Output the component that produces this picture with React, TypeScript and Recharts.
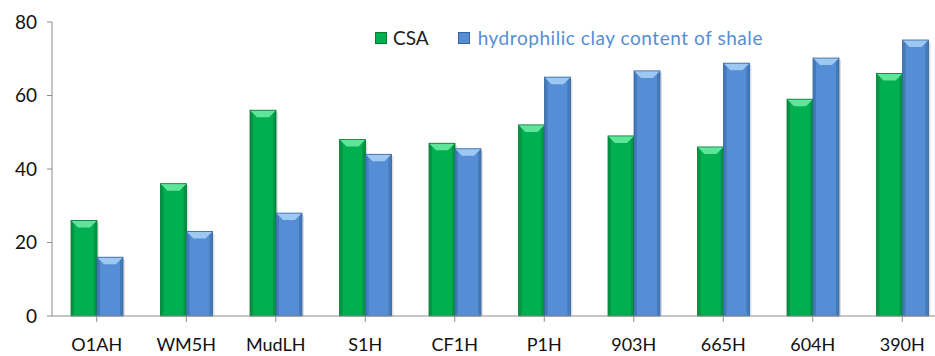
import React from 'react';
import { BarChart, Bar, XAxis, YAxis, Legend } from 'recharts';

const categories = ['O1AH', 'WM5H', 'MudLH', 'S1H', 'CF1H', 'P1H', '903H', '665H', '604H', '390H'];
const csa = [26, 36, 56, 48, 47, 52, 49, 46, 59, 66];
const clay = [16, 23, 28, 44, 45.5, 65, 66.7, 68.8, 70.2, 75.1];
const yTicks = [0, 20, 40, 60, 80];

const data = categories.map((name, i) => ({ name, csa: csa[i], clay: clay[i] }));

const GREEN = { main: '#00b050', dark: '#007a36', light: '#5fe59a' };
const BLUE = { main: '#558ed5', dark: '#36659f', light: '#9cc8f2' };

type Pal = { main: string; dark: string; light: string };

const bevelShape = (pal: Pal) => (props: any) => {
  const { x, y, width, height } = props;
  if (!height || height <= 0) return <g />;
  const b = Math.min(7, height / 2);
  const e = 3;
  return (
    <g>
      <rect x={x + 2} y={y + 2} width={width} height={height - 2} fill="#000" opacity={0.12} />
      <rect x={x} y={y} width={width} height={height} fill={pal.main} />
      <rect x={x} y={y} width={e} height={height} fill={pal.dark} opacity={0.5} />
      <rect x={x + width - e} y={y} width={e} height={height} fill={pal.dark} opacity={0.5} />
      <polygon
        points={`${x},${y} ${x + width},${y} ${x + width - b},${y + b} ${x + b},${y + b}`}
        fill={pal.light}
      />
      <rect x={x} y={y} width={width} height={height} fill="none" stroke={pal.dark} strokeWidth={0.8} />
    </g>
  );
};

const LegendBox = () => (
  <div style={{ display: 'flex', alignItems: 'center', fontFamily: 'Lato', fontSize: 19, whiteSpace: 'nowrap' }}>
    <span style={{ width: 10, height: 10, background: GREEN.main, border: '1px solid #007a36', marginRight: 6 }} />
    <span style={{ color: '#222', marginRight: 29 }}>CSA</span>
    <span style={{ width: 10, height: 10, background: BLUE.main, border: '1px solid #36659f', marginRight: 8 }} />
    <span style={{ color: '#558ed5', letterSpacing: 0.55 }}>hydrophilic clay content of shale</span>
  </div>
);

export default function App() {
  return (
    <div style={{ position: 'absolute', left: 0, top: 0, width: 935, height: 356, overflow: 'hidden', background: '#fff' }}>
      <BarChart
        width={960}
        height={356}
        data={data}
        margin={{ top: 22, right: 13, left: 0, bottom: 0 }}
        barGap={0}
        barSize={26}
      >
        <XAxis
          dataKey="name"
          height={40}
          axisLine={{ stroke: '#8c8c8c' }}
          tickLine={{ stroke: '#8c8c8c' }}
          tickSize={6}
          tickMargin={16}
          tick={{ fill: '#111', fontFamily: 'Lato', fontSize: 18 }}
        />
        <YAxis
          width={52}
          domain={[0, 80]}
          ticks={yTicks}
          axisLine={{ stroke: '#8c8c8c' }}
          tickLine={{ stroke: '#8c8c8c' }}
          tickSize={5}
          tickMargin={10}
          tick={{ fill: '#111', fontFamily: 'Lato', fontSize: 19 }}
        />
        <Legend
          layout="horizontal"
          verticalAlign="middle"
          content={<LegendBox />}
          wrapperStyle={{ position: 'absolute', left: 375, top: 26, width: 'auto' }}
        />
        <Bar dataKey="csa" name="CSA" fill={GREEN.main} shape={bevelShape(GREEN)} isAnimationActive={false} />
        <Bar dataKey="clay" name="hydrophilic clay content of shale" fill={BLUE.main} shape={bevelShape(BLUE)} isAnimationActive={false} />
      </BarChart>
    </div>
  );
}
